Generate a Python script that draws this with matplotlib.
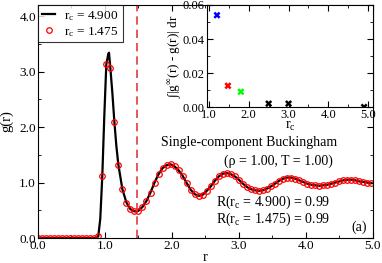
import numpy as np
import matplotlib.pyplot as plt
from matplotlib.ticker import MultipleLocator

plt.rcParams['font.family'] = ['Liberation Serif', 'DejaVu Serif']
plt.rcParams['mathtext.fontset'] = 'custom'
plt.rcParams['mathtext.rm'] = 'Liberation Serif'
plt.rcParams['mathtext.it'] = 'Liberation Serif:italic'

# g(r) for rc = 1.475, sampled every 0.06
r_pts = np.round(np.arange(84) * 0.06, 2)
g_pts = [0.0] * 15 + [
    0.03, 1.12, 3.13, 3.07, 2.10, 1.32, 0.88, 0.64, 0.52, 0.48,
    0.49, 0.56, 0.67, 0.82, 1.00, 1.15, 1.26, 1.31, 1.33, 1.29,
    1.22, 1.12, 0.99, 0.87, 0.79, 0.76, 0.78, 0.85, 0.93, 1.03,
    1.11, 1.16, 1.17, 1.15, 1.11, 1.05, 0.98, 0.92, 0.88, 0.86,
    0.85, 0.86, 0.89, 0.93, 0.98, 1.03, 1.07, 1.09, 1.09, 1.07,
    1.04, 1.01, 0.98, 0.96, 0.95, 0.94, 0.95, 0.96, 0.98, 1.00,
    1.02, 1.04, 1.05, 1.05, 1.04, 1.02, 1.01, 1.00, 0.99]

# extra points of the rc = 4.900 curve around the first peak
r_peak = [0.87, 0.93, 0.99, 1.05, 1.06, 1.11, 1.17]
g_peak = [0.0, 0.35, 2.20, 3.32, 3.34, 2.62, 1.66]

r_line = np.concatenate([r_pts, r_peak])
g_line = np.concatenate([g_pts, g_peak])
order = np.argsort(r_line)
r_line, g_line = r_line[order], g_line[order]

rc_cut = 1.475

# inset: integrated difference vs cutoff
rc_vals = [1.2, 1.475, 1.8, 2.5, 3.0, 4.9]
diff_vals = [0.054, 0.0125, 0.009, 0.002, 0.002, 0.0]
diff_cols = ['blue', 'red', 'lime', 'black', 'black', 'black']

fig = plt.figure(figsize=(3.82, 2.63), dpi=100)
ax = fig.add_axes([0.0995, 0.095, 0.8765, 0.886])

ax.plot(r_line, g_line, color='black', lw=1.6, label=r'$\mathregular{r_c}$ = 4.900')
ax.plot(r_pts, g_pts, ls='none', marker='o', ms=4, mfc='none', mec='red', mew=0.9,
        label=r'$\mathregular{r_c}$ = 1.475')
ax.axvline(rc_cut, color='#e8383d', ls=(0, (5, 3)), lw=1.2)

ax.set_xlim(0, 5)
ax.set_ylim(0, 4.2)
ax.xaxis.set_major_locator(MultipleLocator(1))
ax.xaxis.set_minor_locator(MultipleLocator(0.5))
ax.yaxis.set_major_locator(MultipleLocator(1))
ax.yaxis.set_minor_locator(MultipleLocator(0.5))
ax.xaxis.set_major_formatter('{x:.1f}')
ax.yaxis.set_major_formatter('{x:.1f}')
ax.tick_params(which='both', direction='in', top=True, right=True, labelsize=9.5, pad=1.5)
ax.tick_params(which='major', length=4)
ax.tick_params(which='minor', length=2)
ax.set_xlabel('r', fontsize=10.5, labelpad=-1)
ax.set_ylabel('g(r)', fontsize=10.5)
ax.yaxis.set_label_coords(-0.074, 0.5)

leg = ax.legend(loc='upper left', fontsize=9.5, frameon=True, fancybox=False,
                borderaxespad=0, handlelength=1.0, handletextpad=0.7,
                borderpad=0.3, labelspacing=0.15)
leg.get_frame().set_edgecolor('black')
leg.get_frame().set_linewidth(0.8)

ax.text(3.15, 1.72, 'Single-component Buckingham', fontsize=10, ha='center', va='center')
ax.text(3.59, 1.39, '(ρ = 1.00, T = 1.00)', fontsize=10, ha='center', va='center')
ax.text(2.66, 0.65, r'R($\mathregular{r_c}$ = 4.900) = 0.99', fontsize=10, ha='left', va='center')
ax.text(2.66, 0.34, r'R($\mathregular{r_c}$ = 1.475) = 0.99', fontsize=10, ha='left', va='center')
ax.text(4.91, 0.2, '(a)', fontsize=10, ha='right', va='center')

# inset
ins = fig.add_axes([0.542, 0.593, 0.434, 0.388])
ins.scatter(rc_vals, diff_vals, c=diff_cols, marker='X', s=26, linewidths=0)
ins.set_xlim(0.95, 5.12)
ins.set_ylim(0, 0.06)
ins.xaxis.set_major_locator(MultipleLocator(1))
ins.xaxis.set_minor_locator(MultipleLocator(0.5))
ins.yaxis.set_major_locator(MultipleLocator(0.02))
ins.yaxis.set_minor_locator(MultipleLocator(0.01))
ins.xaxis.set_major_formatter('{x:.1f}')
ins.yaxis.set_major_formatter('{x:.2f}')
ins.tick_params(which='both', direction='in', top=True, right=True, labelsize=9, pad=1.5)
ins.tick_params(which='major', length=4)
ins.tick_params(which='minor', length=2)
ins.set_xlabel(r'$\mathregular{r_c}$', fontsize=10, labelpad=-1)
ins.set_ylabel(r'∫|g$^\infty$(r) - g(r)| dr', fontsize=9.5, labelpad=0)

fig.savefig('out.png', dpi=100)
